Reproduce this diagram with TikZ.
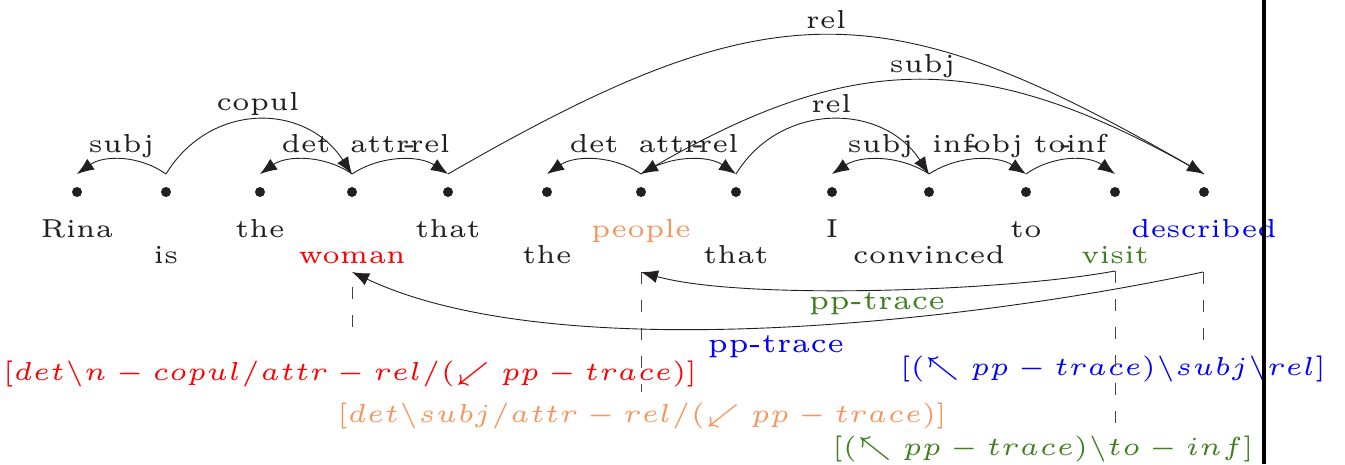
\documentclass[tikz,border=0pt]{standalone}
\usetikzlibrary{arrows.meta}
\DeclareFontShape{TU}{lmr}{m}{n}{<->"[lmroman5-regular]:+tlig;"}{}
\DeclareFontShape{OML}{cmm}{m}{it}{<->cmmi5}{}
\DeclareFontShape{OMS}{cmsy}{m}{n}{<->cmsy5}{}
\DeclareFontShape{OT1}{cmr}{m}{n}{<->cmr5}{}
\definecolor{ink}{RGB}{35,31,32}
\definecolor{orangeC}{RGB}{246,150,92}
\definecolor{greenC}{RGB}{64,128,32}
\newcommand\hy{\hbox to 0pt{\hss-\hss}}
\tikzset{
  word/.style={font=\fontsize{26}{31}\selectfont, text=ink, anchor=base, inner sep=0pt},
  lbl/.style={font=\fontsize{26}{31}\selectfont, text=ink, anchor=base, inner sep=0pt},
  dotn/.style={circle, fill=ink, inner sep=0pt, minimum size=10pt},
  arc/.style={draw=ink, line width=0.9pt, -{Latex[length=17pt,width=13pt]}},
  guide/.style={draw=ink!85, line width=0.9pt, dash pattern=on 12pt off 16pt},
  feat/.style={font=\fontsize{26}{31}\selectfont, anchor=base, inner sep=0pt},
  trace/.style={font=\fontsize{27.5}{32}\selectfont, anchor=base, inner sep=0pt},
}
\begin{document}
\begin{tikzpicture}[x=1pt,y=-1pt]
\useasboundingbox (0,0) rectangle (1345,464);
% dots, arc anchors
\foreach \i/\x in {1/77,2/166,3/260,4/352,5/448,6/547,7/641,8/736,9/832,10/929,11/1026,12/1115,13/1204}{
  \node[dotn] (d\i) at (\x,192) {};
  \coordinate (t\i) at (\x,174);
}
% words
\node[word] (w1) at (77,237) {Rina};
\node[word] (w2) at (166,263) {is};
\node[word] (w3) at (260,237) {the};
\node[word, text=red] (w4) at (352,263) {woman};
\node[word] (w5) at (448,237) {that};
\node[word] (w6) at (547,263) {the};
\node[word, text=orangeC] (w7) at (641,237) {people};
\node[word] (w8) at (736,263) {that};
\node[word] (w9) at (832,237) {I};
\node[word] (w10) at (929,263) {convinced};
\node[word] (w11) at (1026,237) {to};
\node[word, text=greenC] (w12) at (1115,263) {visit};
\node[word, text=blue] (w13) at (1204,237) {described};
% arcs above
\draw[arc] (t2) .. controls +(-27,-19) and +(27,-19) .. node[lbl, pos=0.5, yshift=7pt] {subj} (t1);
\draw[arc] (t2) .. controls +(44,-72) and +(-47,-72) .. node[lbl, pos=0.5, yshift=10pt] {copul} (t4);
\draw[arc] (t4) .. controls +(-27,-19) and +(27,-19) .. node[lbl, pos=0.5, yshift=7pt] {det} (t3);
\draw[arc] (t4) .. controls +(29,-19) and +(-29,-19) .. node[lbl, pos=0.5, yshift=7pt] {attr\hy rel} (t5);
\draw[arc] (t5) .. controls +(321,-185) and +(-321,-185) .. node[lbl, pos=0.5, yshift=7pt] {rel} (t13);
\draw[arc] (t7) .. controls +(-28,-19) and +(28,-19) .. node[lbl, pos=0.5, yshift=7pt] {det} (t6);
\draw[arc] (t7) .. controls +(28,-19) and +(-28,-19) .. node[lbl, pos=0.5, yshift=7pt] {attr\hy rel} (t8);
\draw[arc] (t13) .. controls +(-217,-125) and +(217,-125) .. node[lbl, pos=0.5, yshift=8pt] {subj} (t7);
\draw[arc] (t8) .. controls +(44,-72) and +(-47,-72) .. node[lbl, pos=0.5, yshift=7.5pt] {rel} (t10);
\draw[arc] (t10) .. controls +(-29,-19) and +(29,-19) .. node[lbl, pos=0.5, yshift=7pt] {subj} (t9);
\draw[arc] (t10) .. controls +(29,-19) and +(-29,-19) .. node[lbl, pos=0.5, yshift=7pt] {inf\hy obj} (t11);
\draw[arc] (t11) .. controls +(27,-19) and +(-27,-19) .. node[lbl, pos=0.5, yshift=7pt] {to\hy inf} (t12);
% lower trace connectors
\coordinate (vb) at (1115,271);
\coordinate (db) at (1203,272);
\coordinate (pb) at (641,272);
\coordinate (wb) at (352,272);
\draw[arc] (vb) .. controls (1000,292) and (740,300) .. node[trace, text=greenC, pos=0.5, xshift=5pt, yshift=-20pt] {pp-trace} (pb);
\draw[arc] (db) .. controls (980,320) and (560,370) .. node[trace, text=blue, pos=0.5, xshift=4pt, yshift=-26pt] {pp-trace} (wb);
% category labels
\node[feat, text=red] (f4) at (350,380) {$[det\backslash n-copul/attr-rel/(\swarrow pp-trace)]$};
\node[feat, text=orangeC] (f7) at (642,422) {$[det\backslash subj/attr-rel/(\swarrow pp-trace)]$};
\node[feat, text=blue] (f13) at (1113,375) {$[(\nwarrow pp-trace)\backslash subj\backslash rel]$};
\node[feat, text=greenC] (f12) at (1043,455) {$[(\nwarrow pp-trace)\backslash to-inf]$};
% dashed guides
\coordinate (g4a) at (352,287); \coordinate (g4b) at (352,330);
\coordinate (g7b) at (641,392);
\coordinate (g12b) at (1115,430);
\coordinate (g13b) at (1203,342);
\draw[guide] (g4a) -- (g4b);
\draw[guide] (pb) -- (g7b);
\draw[guide] (vb) -- (g12b);
\draw[guide] (db) -- (g13b);
% vertical bar
\fill[black] (1262,0) rectangle (1266,464);
\end{tikzpicture}
\end{document}
